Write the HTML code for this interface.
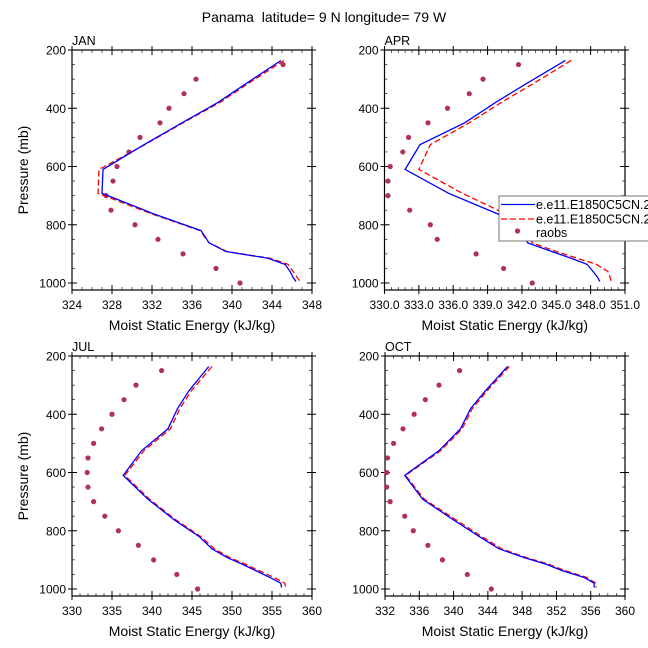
<!DOCTYPE html>
<html><head><meta charset="utf-8"><style>
body{margin:0;background:#fff;overflow:hidden;}
svg{display:block;font-family:"Liberation Sans",sans-serif;}
</style></head><body>
<svg id="chart" width="648" height="648" viewBox="0 0 648 648">
<text x="324" y="22" font-size="14" text-anchor="middle" style="white-space:pre">Panama  latitude= 9 N longitude= 79 W</text>
</svg>
<script>
const NS="http://www.w3.org/2000/svg";
const svg=document.getElementById('chart');
const levels=[236,320,380,450,525,610,692,763,820,862,892,915,936,960,980,995];
const obsLevels=[250,300,350,400,450,500,550,600,650,700,750,800,850,900,950,1000];
const panelNames=["JAN","APR","JUL","OCT"];
const janModel1=[344.9,341.2,338.6,335.0,331.2,327.1,327.0,332.2,336.9,337.7,339.4,343.6,345.3,345.8,346.1,346.4];
const janModel2=[345.2,341.4,338.8,335.1,331.3,326.7,326.6,332.0,336.8,337.7,339.5,343.8,345.6,346.1,346.5,346.8];
const janObs=[345.1,336.4,335.2,333.7,332.8,330.8,329.7,328.5,328.1,327.4,327.9,330.3,332.6,335.1,338.4,340.8];
const aprModel1=[345.8,342.2,339.7,337.0,333.1,331.8,335.6,339.9,342.0,342.5,344.6,346.3,347.7,348.2,348.6,348.8];
const aprModel2=[346.3,342.8,340.2,337.4,334.0,333.0,336.8,340.6,342.3,342.9,345.0,346.8,348.5,349.5,349.7,349.8];
const aprObs=[341.7,338.6,337.4,335.5,333.8,332.1,331.6,330.5,330.3,330.3,332.2,334.0,334.6,338.0,340.4,342.9];
const julModel1=[347.1,344.6,343.2,342.0,338.7,336.4,339.5,342.8,345.9,347.5,349.4,351.3,352.9,354.7,356.1,356.2];
const julModel2=[347.5,344.9,343.5,342.3,339.0,336.6,339.7,343.0,346.1,347.8,349.7,351.7,353.3,355.2,356.6,356.7];
const julObs=[341.2,338.0,336.5,335.0,333.7,332.7,332.0,331.9,332.0,332.7,334.1,335.8,338.3,340.2,343.1,345.7];
const octModel1=[346.3,343.7,342.0,340.8,338.3,334.3,336.4,340.0,343.0,345.3,348.2,350.8,352.6,355.2,356.4,356.4];
const octModel2=[346.5,343.9,342.2,341.0,338.5,334.4,336.6,340.3,343.3,345.6,348.5,351.1,352.9,355.5,356.6,356.6];
const octObs=[340.7,338.3,336.7,335.4,334.1,333.0,332.3,332.2,332.2,332.6,334.3,335.3,337.0,338.7,341.6,344.4];
const xTicks=[[324,328,332,336,340,344,348],[330,333,336,339,342,345,348,351],[330,335,340,345,350,355,360],[332,336,340,344,348,352,356,360]];
const xTickLabels=[["324","328","332","336","340","344","348"],["330.0","333.0","336.0","339.0","342.0","345.0","348.0","351.0"],["330","335","340","345","350","355","360"],["332","336","340","344","348","352","356","360"]];
const xMinorStep=[1,0.6,1,1];
const yTicks=[200,400,600,800,1000];
const model1=[janModel1,aprModel1,julModel1,octModel1];
const model2=[janModel2,aprModel2,julModel2,octModel2];
const obs=[janObs,aprObs,julObs,octObs];
const boxes=[{l:72,r:312,t:50,b:290},{l:384.5,r:625,t:50,b:290},{l:72,r:312,t:356,b:596},{l:385,r:625,t:356,b:596}];
function mk(tag,attrs,parent){const e=document.createElementNS(NS,tag);for(const k in attrs)e.setAttribute(k,attrs[k]);(parent||svg).appendChild(e);return e;}
panelNames.forEach((name,i)=>{
  const b=boxes[i];const xt=xTicks[i];const xmin=xt[0],xmax=xt[xt.length-1];
  const X=v=>b.l+(v-xmin)/(xmax-xmin)*(b.r-b.l);
  const Y=p=>b.t+(p-200)*0.29125;
  const g=mk('g',{});
  
  
  const frame=mk('rect',{x:b.l,y:b.t,width:b.r-b.l,height:b.b-b.t,fill:'none',stroke:'#000','stroke-width':1.2},g);
  
  
  const lab=mk('text',{x:b.l,y:b.t-5,'font-size':12.5},g);lab.textContent=name;
  
  
  for(let v=xmin;v<=xmax+1e-6;v+=xMinorStep[i]){const x=X(v);
    mk('line',{x1:x,x2:x,y1:b.b,y2:b.b-3,stroke:'#000','stroke-width':0.6},g);
    mk('line',{x1:x,x2:x,y1:b.t,y2:b.t+3,stroke:'#000','stroke-width':0.6},g);}
  xt.forEach((v,k)=>{const x=X(v);
    mk('line',{x1:x,x2:x,y1:b.b+4,y2:b.b-5,stroke:'#000','stroke-width':1},g);
    mk('line',{x1:x,x2:x,y1:b.t-4,y2:b.t+5,stroke:'#000','stroke-width':1},g);
    const t=mk('text',{x:x,y:b.b+19,'font-size':12,'text-anchor':'middle'},g);t.textContent=xTickLabels[i][k];
    
    });
  for(let p=200;p<=1000;p+=50){const y=Y(p);
    mk('line',{x1:b.l,x2:b.l+3,y1:y,y2:y,stroke:'#000','stroke-width':0.6},g);
    mk('line',{x1:b.r,x2:b.r-3,y1:y,y2:y,stroke:'#000','stroke-width':0.6},g);}
  yTicks.forEach(p=>{const y=Y(p);
    mk('line',{x1:b.l-4,x2:b.l+5,y1:y,y2:y,stroke:'#000','stroke-width':1},g);
    mk('line',{x1:b.r+4,x2:b.r-5,y1:y,y2:y,stroke:'#000','stroke-width':1},g);
    const t=mk('text',{x:b.l-6,y:y+4.5,'font-size':12,'text-anchor':'end'},g);t.textContent=String(p);
    
    });
  const xtitle=mk('text',{x:(b.l+b.r)/2,y:b.b+40,'font-size':14,'text-anchor':'middle'},g);xtitle.textContent='Moist Static Energy (kJ/kg)';
  
  
  if(i%2===0){const cy=(b.t+b.b)/2;const yt=mk('text',{x:28,y:cy,'font-size':14,'text-anchor':'middle',transform:`rotate(-90 28 ${cy})`},g);yt.textContent='Pressure (mb)';
    
    }
  obs[i].forEach((v,k)=>{const c=mk('circle',{cx:X(v),cy:Y(obsLevels[k]),r:2.6,fill:'#b0305a'},g);
    
    });
  const pts2=model2[i].map((v,k)=>X(v)+','+Y(levels[k])).join(' ');
  const l2=mk('polyline',{points:pts2,fill:'none',stroke:'#f00','stroke-width':1.3,'stroke-dasharray':'6,3'},g);
  
  
  const pts1=model1[i].map((v,k)=>X(v)+','+Y(levels[k])).join(' ');
  const l1=mk('polyline',{points:pts1,fill:'none',stroke:'#00f','stroke-width':1.3},g);
  
  
});
const lg=mk('g',{});


mk('rect',{x:499,y:196,width:160,height:45,fill:'#fff',stroke:'#555','stroke-width':0.8},lg);
mk('line',{x1:501,x2:535,y1:204.5,y2:204.5,stroke:'#00f','stroke-width':1.3},lg);
mk('line',{x1:501,x2:535,y1:219,y2:219,stroke:'#f00','stroke-width':1.3,'stroke-dasharray':'6,3'},lg);
mk('circle',{cx:517.5,cy:231,r:2.6,fill:'#b0305a'},lg);
[['e.e11.E1850C5CN.2',209],['e.e11.E1850C5CN.2',223.5],['raobs',237]].forEach(([s,y])=>{const t=mk('text',{x:536,y:y,'font-size':12.5},lg);t.textContent=s;
  
  });
</script>
</body></html>
